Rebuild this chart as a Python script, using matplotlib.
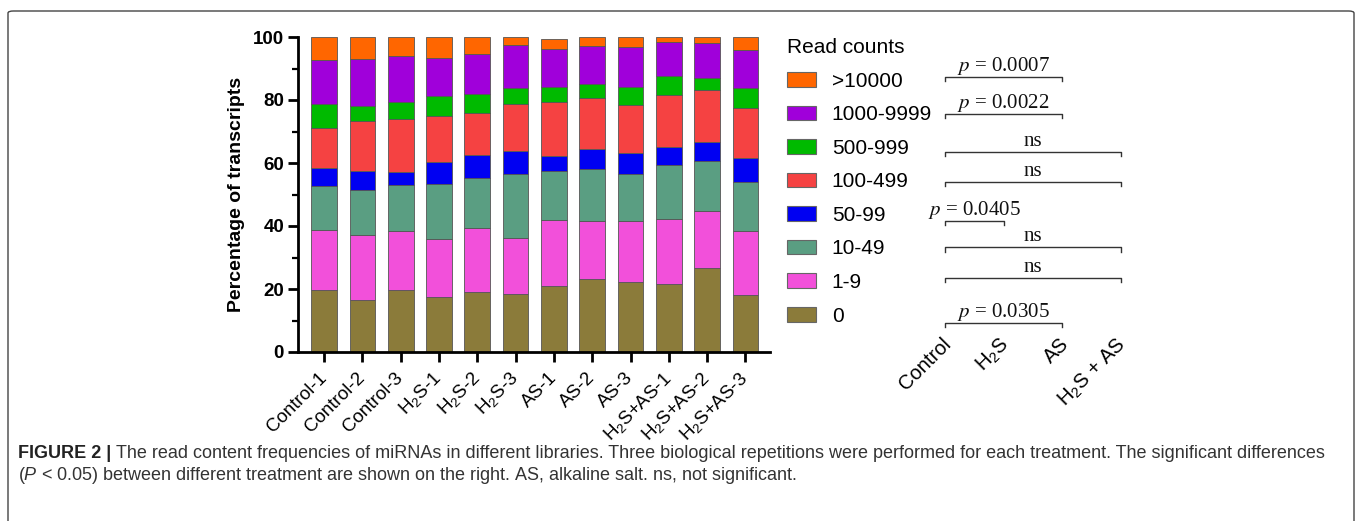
import matplotlib
matplotlib.use('Agg')
import matplotlib.pyplot as plt
import numpy as np
from matplotlib.patches import Patch, FancyBboxPatch
from matplotlib.ticker import MultipleLocator
import matplotlib.transforms as mtransforms

plt.rcParams['font.family'] = ['Liberation Sans', 'DejaVu Sans']
plt.rcParams['mathtext.fontset'] = 'custom'
plt.rcParams['mathtext.rm'] = 'Liberation Sans'
plt.rcParams['mathtext.it'] = 'Liberation Sans:italic'
plt.rcParams['mathtext.bf'] = 'Liberation Sans:bold'

# ---------------- data ----------------
samples = ['Control-1', 'Control-2', 'Control-3',
           'H$_2$S-1', 'H$_2$S-2', 'H$_2$S-3',
           'AS-1', 'AS-2', 'AS-3',
           'H$_2$S+AS-1', 'H$_2$S+AS-2', 'H$_2$S+AS-3']
read_bins = ['0', '1-9', '10-49', '50-99', '100-499', '500-999', '1000-9999', '>10000']

pct_0         = [19.6, 16.6, 19.6, 17.4, 19.0, 18.5, 21.1, 23.2, 22.3, 21.7, 26.6, 18.2]
pct_1_9       = [19.1, 20.5, 18.8, 18.4, 20.5, 17.7, 20.8, 18.3, 19.2, 20.6, 18.2, 20.1]
pct_10_49     = [14.0, 14.4, 14.7, 17.6, 15.7, 20.3, 15.5, 16.7, 15.0, 17.2, 15.8, 15.7]
pct_50_99     = [5.6, 6.0, 3.9, 7.0, 7.2, 7.2, 4.9, 6.2, 6.7, 5.5, 6.1, 7.6]
pct_100_499   = [12.8, 15.8, 17.1, 14.5, 13.4, 14.9, 17.2, 16.3, 15.2, 16.6, 16.5, 15.9]
pct_500_999   = [7.6, 4.8, 5.4, 6.3, 6.2, 5.1, 4.5, 4.3, 5.6, 5.9, 3.7, 6.2]
pct_1000_9999 = [13.9, 14.8, 14.4, 12.2, 12.7, 13.8, 12.2, 12.1, 12.7, 10.9, 11.1, 12.1]
pct_gt10000   = [7.4, 7.1, 6.1, 6.6, 5.3, 2.5, 3.3, 2.9, 3.3, 1.6, 2.0, 4.2]

series = [pct_0, pct_1_9, pct_10_49, pct_50_99, pct_100_499, pct_500_999,
          pct_1000_9999, pct_gt10000]
colors = ['#8B7B3A', '#F250DA', '#5A9E82', '#0000F2', '#F54242', '#00BA00',
          '#A000DA', '#FF6600']

groups = ['Control', 'H$_2$S', 'AS', 'H$_2$S + AS']
comp_start = [0, 0, 0, 0, 0, 0, 0, 0]
comp_end = [2, 2, 3, 3, 1, 3, 3, 2]
comp_labels = ['$p$ = 0.0007', '$p$ = 0.0022', 'ns', 'ns', '$p$ = 0.0405',
               'ns', 'ns', '$p$ = 0.0305']

caption_bold = 'FIGURE 2 | '
caption_line1 = ('The read content frequencies of miRNAs in different libraries. '
                 'Three biological repetitions were performed for each treatment. '
                 'The significant differences')
caption_line2 = ('($P$ < 0.05) between different treatment are shown on the right. '
                 'AS, alkaline salt. ns, not significant.')

# ---------------- layout ----------------
W, H = 1358, 521
def fx(px): return px / W
def fy(py): return 1 - py / H

fig = plt.figure(figsize=(W / 100, H / 100), dpi=100)
fig.patch.set_facecolor('white')

# border
border = FancyBboxPatch((fx(8), fy(540)), fx(1354) - fx(8), (540 - 11) / H,
                        boxstyle='round,pad=0,rounding_size=0.004',
                        transform=fig.transFigure, facecolor='none',
                        edgecolor='#444444', linewidth=1.0)
fig.patches.append(border)

ax = fig.add_axes([fx(298), fy(352), fx(770) - fx(298), (352 - 37) / H])
x = np.arange(len(samples))
bottom = np.zeros(len(samples))
handles = []
for vals, col, lab in zip(series, colors, read_bins):
    ax.bar(x, vals, 0.67, bottom=bottom, color=col, edgecolor='#555555',
           linewidth=0.6)
    bottom += np.array(vals)
    handles.append(Patch(facecolor=col, edgecolor='#666666', linewidth=0.8, label=lab))

ax.set_xlim(-0.68, 11.64)
ax.set_ylim(0, 100)
for s in ['top', 'right']:
    ax.spines[s].set_visible(False)
for s in ['left', 'bottom']:
    ax.spines[s].set_linewidth(2)
ax.yaxis.set_major_locator(MultipleLocator(20))
ax.yaxis.set_minor_locator(MultipleLocator(10))
ax.tick_params(axis='both', which='major', direction='out', length=7, width=2,
               color='black')
ax.tick_params(axis='y', which='minor', direction='out', length=4, width=1.6)
ax.tick_params(axis='y', labelsize=13.5, pad=3)
for t in ax.get_yticklabels():
    t.set_fontweight('bold')
ax.set_xticks(x)
ax.set_xticklabels(samples, rotation=45, ha='right', va='center',
                   rotation_mode='anchor', fontsize=13.5)
ax.tick_params(axis='x', pad=10)
ax.set_ylabel('Percentage of transcripts', fontsize=14, fontweight='bold')
ax.yaxis.set_label_coords(-0.113, 0.5)

# legend
leg = fig.legend(handles[::-1], read_bins[::-1], loc='upper left',
                 bbox_to_anchor=(fx(787), fy(38)), frameon=False,
                 title='Read counts', alignment='left', fontsize=15,
                 title_fontsize=15, handlelength=1.4, handleheight=0.7,
                 handletextpad=0.75, labelspacing=0.70, borderpad=0,
                 borderaxespad=0)

# significance panel
ax2 = fig.add_axes([fx(900), fy(352), fx(1160) - fx(900), (352 - 37) / H])
ax2.axis('off')
unit = 58.7
ax2.set_xlim((900 - 945) / unit, 3 + (1160 - 1121) / unit)
ax2.set_ylim(0, 100)
bracket_y = [87.4, 75.6, 63.5, 53.9, 41.6, 33.2, 23.6, 9.3]
for s, e, lab, yb in zip(comp_start, comp_end, comp_labels, bracket_y):
    ax2.plot([s, s, e, e], [yb - 1.3, yb, yb, yb - 1.3], color='#333333',
             lw=1.0, clip_on=False)
    ax2.text((s + e) / 2, yb + 1.9, lab, ha='center', va='baseline',
             fontfamily='Liberation Serif', math_fontfamily='stix',
             fontsize=15, color='#111111')
trans = ax2.get_xaxis_transform() + mtransforms.ScaledTranslation(
    0.10, 0, fig.dpi_scale_trans)
for i, g in enumerate(groups):
    ax2.text(i, (352 - 334) / 315, g, transform=trans, rotation=45,
             ha='right', va='top', fontsize=14.5)

# caption (fit line 1 to the reference width)
fig.canvas.draw()
r = fig.canvas.get_renderer()

def draw_caption(size):
    tb = fig.text(fx(18), fy(454), caption_bold, fontsize=size, fontweight='bold',
                  va='center', ha='left', color='#222222')
    bb = tb.get_window_extent(r)
    t1 = fig.text(bb.x1 / W, fy(454), caption_line1, fontsize=size, va='center',
                  ha='left', color='#333333')
    t2 = fig.text(fx(18), fy(476), caption_line2, fontsize=size, va='center',
                  ha='left', color='#333333')
    return tb, t1, t2

cap_size = 11.5
parts = draw_caption(cap_size)
right = parts[1].get_window_extent(r).x1
for p in parts:
    p.remove()
cap_size = cap_size * (1332 - 18) / (right - 18)
draw_caption(cap_size)

fig.savefig('out.png', dpi=100)
